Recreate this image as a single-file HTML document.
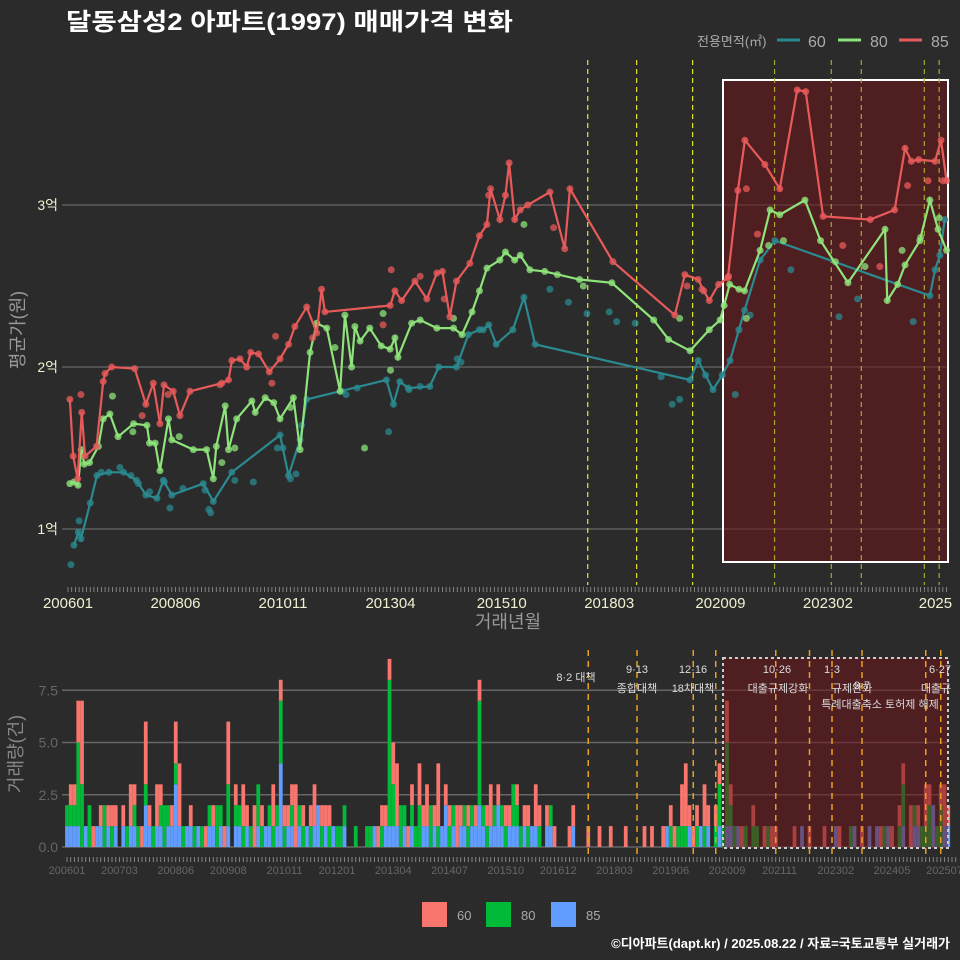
<!DOCTYPE html>
<html><head><meta charset="utf-8">
<style>
body{margin:0;background:#2b2b2b;}
svg{display:block;font-family:"Liberation Sans","Noto Sans CJK KR",sans-serif;}
</style></head>
<body>
<svg id="c" width="960" height="960" viewBox="0 0 960 960" xmlns="http://www.w3.org/2000/svg">
<rect width="960" height="960" fill="#2b2b2b"/>
<text x="66" y="30" fill="#ffffff" font-size="24" font-weight="bold" textLength="447" lengthAdjust="spacingAndGlyphs">달동삼성2 아파트(1997) 매매가격 변화</text>
<g>
<text x="697" y="46" fill="#aaaaaa" font-size="13">전용면적(㎡)</text>
<line x1="777" y1="40" x2="800" y2="40" stroke="#2a8a90" stroke-width="3"/>
<text x="808" y="47" fill="#aaaaaa" font-size="16">60</text>
<line x1="838" y1="40" x2="861" y2="40" stroke="#8ee37a" stroke-width="3"/>
<text x="870" y="47" fill="#aaaaaa" font-size="16">80</text>
<line x1="899" y1="40" x2="922" y2="40" stroke="#e85a5a" stroke-width="3"/>
<text x="931" y="47" fill="#aaaaaa" font-size="16">85</text>
</g>
<g id="topg"></g>
<g id="botg"></g>
<g>
<rect x="422" y="902" width="25" height="25" fill="#F8766D"/>
<text x="457" y="920" fill="#aaaaaa" font-size="13">60</text>
<rect x="486" y="902" width="25" height="25" fill="#00BA38"/>
<text x="521" y="920" fill="#aaaaaa" font-size="13">80</text>
<rect x="551" y="902" width="25" height="25" fill="#619CFF"/>
<text x="586" y="920" fill="#aaaaaa" font-size="13">85</text>
</g>
<text x="950" y="948" text-anchor="end" fill="#ffffff" font-size="13" font-weight="bold">©디아파트(dapt.kr) / 2025.08.22 / 자료=국토교통부 실거래가</text>
</svg>
<script>
// ---- data ----
const topTickLabels=["200601","200806","201011","201304","201510","201803","202009","202302","2025"];
const topTickMonths=[0,29,58,87,117,146,176,205,234];
const botTickLabels=["200601","200703","200806","200908","201011","201201","201304","201407","201510","201612","201803","201906","202009","202111","202302","202405","202507"];
const yTicks=[1,2,3];
const yTickLabels=["1억","2억","3억"];
const barTicks=[0,2.5,5,7.5];
const barTickLabels=["0.0","2.5","5.0","7.5"];
const m85=[0.5,1.4,2.6,3.7,4.6,7.7,9.5,10,11.8,18,21,23,24.8,25.9,28.4,30.2,32.9,41.5,43.3,44.2,46.4,48.2,49.3,51.4,54.3,57.2,59.5,61.2,64.4,67.1,68.4,69.3,86.9,88.2,90,93.6,96.8,99.5,101,103,104.8,108.4,111,113,114,116.5,118,119,120.5,122,124,130,134,135.4,147,163.7,166.4,170,171.5,173,175.5,178,180.7,182.6,188,192,196.7,199,203.7,216.4,223,225.8,227.5,229.5,233.9,235.5,237];
const v85=[1.80,1.45,1.31,1.72,1.45,1.51,1.91,1.96,2.0,1.99,1.77,1.90,1.65,1.89,1.85,1.70,1.85,1.90,1.92,2.04,2.05,2.0,2.09,2.08,1.97,2.05,2.14,2.25,2.37,2.21,2.48,2.34,2.38,2.47,2.41,2.53,2.42,2.58,2.59,2.31,2.53,2.64,2.81,2.88,3.10,2.91,3.06,3.26,2.91,2.97,3.0,3.08,2.73,3.10,2.65,2.32,2.57,2.54,2.47,2.41,2.51,2.55,3.09,3.40,3.25,3.10,3.71,3.70,2.93,2.91,2.97,3.35,3.27,3.28,3.27,3.40,3.15];
const m80=[0.5,1.6,2.7,3.6,4.4,5.8,8.2,9.5,11.3,13.5,17.7,21.3,22,23.5,24.8,27.1,28,33.8,37.4,39.2,40,42.4,43.3,45.5,49.6,50.5,53.2,55.5,57.2,60.8,62.6,65.3,67.1,69.8,73.4,74.7,76.5,77.4,78.8,81.4,84.5,86.9,88.2,89,92.7,95,99.5,104,106.3,109,111,113,116.5,118,120.5,122,124.6,128.6,138,146.7,158,162,167.8,173,175.9,177,178.5,181,182.5,186.7,189.4,192,198.8,203,210.4,220.4,221,223.8,225.8,229.8,232.5,234.7,237];
const v80=[1.28,1.29,1.27,1.49,1.40,1.41,1.51,1.68,1.71,1.57,1.65,1.64,1.53,1.53,1.36,1.68,1.55,1.49,1.49,1.31,1.51,1.76,1.49,1.68,1.79,1.72,1.81,1.78,1.68,1.81,1.49,2.09,2.27,2.24,1.85,2.32,2.0,2.25,2.16,2.24,2.13,2.11,2.18,2.06,2.27,2.29,2.24,2.24,2.20,2.34,2.47,2.61,2.66,2.71,2.66,2.69,2.60,2.59,2.54,2.52,2.29,2.17,2.10,2.23,2.29,2.38,2.51,2.48,2.47,2.72,2.97,2.94,3.03,2.78,2.52,2.85,2.41,2.51,2.63,2.78,3.03,2.85,2.72];
const m60=[1.6,2.8,3.5,6.0,7.8,11,15,18.5,21,24,25.7,28,36.5,39.2,44.2,57.2,59.5,62.6,64.4,85.9,87.8,89.5,91.8,97.6,100,104.8,108,111,112,113.5,115.5,120,123,126,167.8,170,172,174,176.5,178.6,181,182.5,186.7,190.7,232.5,233.9,235.2,236.5];
const v60=[0.90,0.98,0.94,1.16,1.33,1.35,1.35,1.30,1.21,1.19,1.30,1.21,1.28,1.17,1.35,1.58,1.33,1.55,1.80,1.92,1.77,1.91,1.87,1.88,2.0,2.0,2.20,2.23,2.23,2.26,2.14,2.23,2.43,2.14,1.92,2.04,1.95,1.86,1.95,2.04,2.23,2.35,2.66,2.78,2.44,2.60,2.69,2.91];
const e60m=[0.8,3,9,14,17,19,22,26,27.5,31,37,38,38.5,45,50,56.5,58,60,61.5,63,74,75,78,86.5,92,95,105,106,130,135,140,146,148,153,160,163,165,180,184,195,208,213,228];
const e60v=[0.78,1.05,1.35,1.38,1.33,1.28,1.23,1.29,1.13,1.25,1.24,1.12,1.10,1.30,1.29,1.50,1.50,1.31,1.34,1.64,1.85,1.83,1.87,1.60,1.86,1.88,2.05,2.03,2.48,2.40,2.33,2.34,2.28,2.27,1.94,1.77,1.80,1.83,2.32,2.60,2.31,2.42,2.28];
const e80m=[12,17.5,30,41.5,45,60,72,80,85,87,104,123,132,139,165,183,189,193,207,215,225,230,235];
const e80v=[1.82,1.60,1.57,1.41,1.50,1.75,2.12,1.50,2.33,1.98,2.30,2.88,2.57,2.50,2.30,2.30,2.75,2.78,2.65,2.62,2.72,2.80,2.92];
const e85m=[3.5,20,27,41,55,56,66,85,87.2,95,101.5,113.5,131,167,171,178.2,183,186,209,219,226.5,232,236];
const e85v=[1.83,1.70,1.83,1.89,1.90,2.19,2.18,2.26,2.60,2.56,2.42,3.06,2.86,2.50,2.48,2.56,3.10,2.82,2.75,2.62,3.12,3.15,3.15];
const c85=[1,1,1,1,0,1,0,0,1,1,0,1, 0,1,0,1,0,1,1,0,0,2,1,0, 1,1,0,1,1,3,1,0,1,1,0,1, 0,0,1,1,0,1,0,1,0,1,1,0, 1,0,0,1,0,1,1,0,1,4,0,1, 1,0,1,0,1,0,1,2,0,1,0,1, 0,0,1,0,0,0,0,0,0,0,1,0, 0,1,1,1,1,0,1,0,1,0,0,1, 1,0,1,0,1,2,0,1,0,1,1,0, 1,1,2,1,0,1,1,2,1,0,1,1, 1,0,1,0,1,1,0,0,1,1,0,0, 0,0,0,1,0,0,0,0,0,0,0,0, 0,0,0,0,0,0,0,0,0,0,0,0, 0,0,0,0,1,0,0,0,0,0,1,0, 0,1,0,1,0,0,1,0,1,1,0,1, 0,0,0,0,0,0,0,0,0,0,0,0, 0,0,0,0,1,0,0,0,0,0,0,0, 0,1,0,0,0,0,1,0,0,0,1,0, 1,0,0,1,0,0,0,1,0,0,1,1, 0,0,0,2,0,0,1,1];
const c80=[1,1,1,4,3,0,2,0,0,0,2,0, 1,0,0,0,1,0,1,1,0,1,0,1, 0,1,2,1,0,1,0,1,0,0,1,0, 1,0,1,0,2,1,0,2,0,1,1,1, 0,1,0,2,1,0,1,1,1,3,1,0, 1,0,1,1,0,1,0,0,1,0,1,0, 1,1,1,0,0,1,0,0,1,1,0,0, 1,0,7,2,0,2,1,0,1,1,2,0, 0,2,0,1,0,0,1,1,0,0,1,1, 1,0,5,1,1,0,1,0,1,1,0,2, 1,1,0,1,0,0,1,0,0,1,0,0, 0,0,0,0,0,0,0,0,0,0,0,0, 0,0,0,0,0,0,0,0,0,0,0,0, 0,0,0,0,0,1,0,1,1,1,0,0, 1,0,1,0,0,1,2,1,4,1,1,0, 0,1,0,1,1,0,0,1,0,0,0,0, 0,0,0,0,0,0,0,0,0,0,0,0, 0,0,0,0,0,1,0,0,0,0,0,0, 0,0,1,0,0,0,1,2,0,0,1,0, 1,1,2,0,1,2,0,0];
const c60=[0,1,1,2,4,0,0,1,0,1,0,1, 1,1,0,1,0,2,1,0,1,3,1,0, 2,1,0,0,1,2,3,0,0,1,0,0, 0,1,0,1,0,0,1,3,0,1,0,2, 1,0,2,0,1,0,0,2,0,1,1,1, 1,3,0,1,0,1,2,0,1,1,1,0, 0,0,0,0,0,0,0,0,0,0,0,1, 1,1,1,2,3,0,0,1,1,0,2,1, 2,0,1,3,0,1,1,0,2,1,0,1, 0,1,1,0,1,2,0,1,0,1,1,0, 1,0,1,1,0,2,1,0,1,0,1,0, 0,0,1,1,0,0,0,1,0,0,1,0, 0,1,0,0,0,1,0,0,0,0,1,0, 1,0,0,1,0,1,1,0,2,3,1,1, 1,0,2,1,0,1,1,0,2,1,0,0, 1,0,0,1,0,0,1,0,1,1,0,0, 0,0,1,0,0,0,1,0,0,0,1,0, 0,0,1,0,0,0,0,0,1,0,0,0, 0,1,0,0,1,0,1,1,0,2,0,1, 0,2,1,0,0,1,2,1];
const policyTop=[140.2,153.4,168.5,190.6,205.9,214,231,235];
const policyBot=[139,152,167,173,189,198,204,212,229,233];
const policyLabels=[["8·2 대책",576,681],["9·13",637,673],["종합대책",637,692],["12·16",693,673],["18차대책",693,692],["10·26",777,673],["1·3",832,673],["대출규제강화",778,692],["규제완화",852,692],["9·7",862,689],["특례대출축소 토허제 해제",880,708],["6·27",940,673],["대출규",936,692]];

// ---- axes ----
const NS="http://www.w3.org/2000/svg";
const X=m=>68+m*3.707;
const XB=m=>67+m*3.75;
const Y=v=>529-(v-1)*162;
const YB=c=>847-c*20.9;
const labelMonth=s=>(parseInt(s.slice(0,4))-2006)*12+parseInt(s.slice(4,6))-1;
function mk(tag,attrs,parent){const e=document.createElementNS(NS,tag);for(const k in attrs)e.setAttribute(k,attrs[k]);parent.appendChild(e);return e;}
const gTop=document.getElementById('topg'), gBot=document.getElementById('botg');

yTicks.forEach((t,i)=>{
 const l=mk('line',{x1:62,x2:948,y1:Y(t),y2:Y(t),stroke:'#777',"stroke-width":1},gTop);
 
 const tx=mk('text',{x:58,y:Y(t)+5,"text-anchor":"end",fill:"#f0f0d0","font-size":14},gTop);tx.textContent=yTickLabels[i];
 
});
const sh=mk('rect',{x:723,y:80,width:225,height:482,fill:'rgba(110,20,25,0.55)',stroke:'#fff',"stroke-width":2},gTop);

policyTop.forEach((m,i)=>{
 const l=mk('line',{x1:X(m),x2:X(m),y1:60,y2:585,stroke:i<3?'#e8e830':'#a8a830',"stroke-width":1.2,"stroke-dasharray":"5,4"},gTop);
 
});
for(let m=0;m<=237;m++){const t=mk('line',{x1:X(m),x2:X(m),y1:587,y2:592,stroke:'#999',"stroke-width":0.8},gTop);}
topTickLabels.forEach((s,i)=>{const t=mk('text',{x:X(topTickMonths[i]),y:608,"text-anchor":"middle",fill:"#f0f0d0","font-size":15},gTop);t.textContent=s;});
let t1=mk('text',{x:508,y:628,"text-anchor":"middle",fill:"#999","font-size":18},gTop);t1.textContent="거래년월";
let t2=mk('text',{x:24,y:330,"text-anchor":"middle",fill:"#999","font-size":18,transform:"rotate(-90 24 330)"},gTop);t2.textContent="평균가(원)";

function series(ms,vs,em,ev,col,name){
 const g=mk('g',{},gTop);
 em.forEach((m,i)=>{const c=mk('circle',{cx:X(m),cy:Y(ev[i]),r:3.5,fill:col,opacity:0.75},g);});
 ms.forEach((m,i)=>{const c=mk('circle',{cx:X(m),cy:Y(vs[i]),r:3.5,fill:col,opacity:0.8},g);});
 const p=mk('polyline',{points:ms.map((m,i)=>X(m)+','+Y(vs[i])).join(' '),fill:'none',stroke:col,"stroke-width":2.2},g);
 
}
series(m60,v60,e60m,e60v,'#2a8a90','60');
series(m80,v80,e80m,e80v,'#8ee37a','80');
series(m85,v85,e85m,e85v,'#e85a5a','85');

barTicks.forEach((t,i)=>{
 const l=mk('line',{x1:62,x2:948,y1:YB(t),y2:YB(t),stroke:'#666',"stroke-width":1.5},gBot);
 const tx=mk('text',{x:58,y:YB(t)+5,"text-anchor":"end",fill:"#666","font-size":14},gBot);tx.textContent=barTickLabels[i];
});
for(let m=0;m<c60.length;m++){
 let base=0;
 [[c85[m],'#619CFF','85'],[c80[m],'#00BA38','80'],[c60[m],'#F8766D','60']].forEach(([v,col,n])=>{
  if(v>0){const r=mk('rect',{x:XB(m)-1.87,y:YB(base+v),width:3.75,height:YB(base)-YB(base+v),fill:col},gBot);}
  base+=v;});
}
const sb=mk('rect',{x:723,y:658,width:225,height:190,fill:'rgba(110,20,25,0.55)',stroke:'#ccc',"stroke-width":2,"stroke-dasharray":"3,3"},gBot);

policyBot.forEach(m=>{const l=mk('line',{x1:XB(m),x2:XB(m),y1:650,y2:856,stroke:'#e8a020',"stroke-width":1.5,"stroke-dasharray":"6,5"},gBot);});
policyLabels.forEach(([s,x,y])=>{const t=mk('text',{x:x,y:y,"text-anchor":"middle",fill:"#ddd","font-size":11},gBot);t.textContent=s;});
for(let m=0;m<=237;m++){const t=mk('line',{x1:XB(m),x2:XB(m),y1:857,y2:862,stroke:'#999',"stroke-width":0.8},gBot);}
botTickLabels.forEach(s=>{const t=mk('text',{x:XB(labelMonth(s)),y:874,"text-anchor":"middle",fill:"#666","font-size":11},gBot);t.textContent=s;});
let t3=mk('text',{x:22,y:754,"text-anchor":"middle",fill:"#888","font-size":18,transform:"rotate(-90 22 754)"},gBot);t3.textContent="거래량(건)";
</script>
</body></html>
